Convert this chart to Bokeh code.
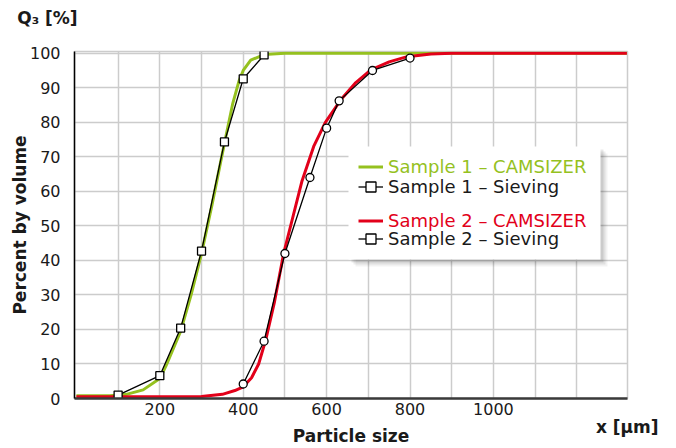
from bokeh.plotting import figure
from bokeh.models import (Range1d, FixedTicker, BoxAnnotation, Legend, LegendItem, Title,
                          LinearAxis)
from bokeh.embed import file_html
from bokeh.resources import INLINE

# ---------------- data ----------------
s1_cam_x = [0, 80, 120, 160, 200, 215, 250, 275, 300, 325, 350, 362, 375, 390, 400, 418, 450, 500, 700, 1000, 1320]
s1_cam_y = [0.8, 0.8, 1.2, 2.5, 5.8, 9.5, 19.5, 30, 42, 56, 71, 78, 85.5, 92, 95, 98, 99.6, 100, 100, 100, 100]

s2_cam_x = [0, 100, 200, 300, 350, 380, 400, 420, 437, 454, 475, 497, 520, 541, 569, 597, 634, 670, 706, 750, 793, 850, 900, 1000, 1320]
s2_cam_y = [0.5, 0.5, 0.5, 0.6, 1.2, 2.3, 3.4, 6, 10, 17, 28, 42, 53, 63, 73, 80, 86.5, 91.5, 95.2, 97.5, 99, 99.8, 100, 100, 100]

s1_sieve_x = [100, 200, 250, 300, 355, 400, 450]
s1_sieve_y = [1.0, 6.6, 20.4, 42.7, 74.3, 92.6, 99.5]

s2_sieve_x = [400, 450, 500, 560, 600, 630, 710, 800]
s2_sieve_y = [4.2, 16.6, 42.0, 64.0, 78.3, 86.2, 95.0, 98.6]

x_tick_values = [200, 400, 600, 800, 1000]
x_grid_values = [100, 200, 300, 400, 500, 600, 700, 800, 900, 1000, 1100, 1200]
y_tick_values = [0, 10, 20, 30, 40, 50, 60, 70, 80, 90, 100]

labels = ["Sample 1 \u2013 CAMSIZER", "Sample 1 \u2013 Sieving",
          "Sample 2 \u2013 CAMSIZER", "Sample 2 \u2013 Sieving"]
y_title = "Percent by volume"
x_title = "Particle size"
x_unit = "x [\u00b5m]"
y_unit = "Q\u2083 [%]"

GREEN = "#95c11f"
RED = "#e2001a"
TXT = "#1a1a1a"
FONT = "DejaVu Sans"

X_START, X_END = -4.6, 1321.5
UNIT_TICK = 1321   # where the unit text of the x axis sits (right end of the axis)

# ---------------- figure ----------------
p = figure(width=676, height=448, output_backend="svg", toolbar_location=None,
           x_range=Range1d(X_START, X_END), y_range=Range1d(0, 100.5),
           min_border_left=74, min_border_right=49, min_border_top=51, min_border_bottom=49)
p.background_fill_color = "white"
p.border_fill_color = "white"
p.outline_line_color = "#cccccc"
p.outline_line_width = 1.5

p.title = Title(text=y_unit + "\n\u00a0", align="left", offset=-57.3, standoff=7,
                vertical_align="bottom",
                text_font=FONT, text_font_size="17px", text_font_style="bold",
                text_color=TXT)

p.xaxis.ticker = FixedTicker(ticks=x_tick_values)
p.yaxis.ticker = FixedTicker(ticks=y_tick_values)
p.xgrid.ticker = FixedTicker(ticks=x_grid_values)
p.ygrid.ticker = FixedTicker(ticks=y_tick_values)
for g in (p.xgrid, p.ygrid):
    g.grid_line_color = "#cccccc"
    g.grid_line_width = 1.5

for ax in (p.xaxis, p.yaxis):
    ax.major_tick_line_color = None
    ax.minor_tick_line_color = None
    ax.major_label_text_font = FONT
    ax.major_label_text_font_size = "16px"
    ax.major_label_text_color = TXT
    ax.axis_label_text_font = FONT
    ax.axis_label_text_font_size = "17px"
    ax.axis_label_text_font_style = "bold"
    ax.axis_label_text_color = TXT
p.yaxis.axis_label = y_title
p.yaxis.axis_line_color = "black"
p.yaxis.axis_line_width = 1.5
p.yaxis.major_label_standoff = 8
p.yaxis.axis_label_standoff = -3
p.xaxis.axis_line_color = "#3a3a3a"
p.xaxis.axis_line_width = 2.5
p.xaxis.major_label_standoff = -2

# second, unlined x axis below the first: unit text at the right end + axis title
ux = LinearAxis(ticker=FixedTicker(ticks=[UNIT_TICK]),
                major_label_overrides={UNIT_TICK: x_unit},
                axis_label=x_title, axis_line_color=None,
                major_tick_line_color=None, minor_tick_line_color=None,
                major_label_standoff=-7, axis_label_standoff=-14,
                major_label_text_font=FONT, major_label_text_font_size="17px",
                major_label_text_font_style="bold", major_label_text_color=TXT,
                axis_label_text_font=FONT, axis_label_text_font_size="17px",
                axis_label_text_font_style="bold", axis_label_text_color=TXT)
p.add_layout(ux, "below")

# ---------------- glyphs ----------------
g1 = p.line(s1_cam_x, s1_cam_y, line_color=GREEN, line_width=3)
g2 = p.line(s2_cam_x, s2_cam_y, line_color=RED, line_width=3)

s1l = p.line(s1_sieve_x, s1_sieve_y, line_color="black", line_width=1.3)
s1m = p.scatter(s1_sieve_x, s1_sieve_y, marker="square", size=8, fill_color="white",
                line_color="black", line_width=1.3)
s2l = p.line(s2_sieve_x, s2_sieve_y, line_color="black", line_width=1.3)
s2m = p.scatter(s2_sieve_x, s2_sieve_y, marker="circle", size=8, fill_color="white",
                line_color="black", line_width=1.3)
# legend-only square marker for sample 2 (zero size in the plot)
s2sq = p.scatter(s2_sieve_x, s2_sieve_y, marker="square", size=0, fill_color="white",
                 line_color="black", line_width=1.3)

# ---------------- legend box with shadow ----------------
bl, br, bt, bb = 274, 526, 252, 139
for off, a in ((7, 0.05), (5, 0.07), (3, 0.09)):
    p.add_layout(BoxAnnotation(left=bl + off, right=br + off, top=bt - off, bottom=bb - off,
                               left_units="screen", right_units="screen",
                               top_units="screen", bottom_units="screen",
                               fill_color="black", fill_alpha=a, line_alpha=0))
p.add_layout(BoxAnnotation(left=bl, right=br, top=bt, bottom=bb,
                           left_units="screen", right_units="screen",
                           top_units="screen", bottom_units="screen",
                           fill_color="white", fill_alpha=1, line_alpha=0))

rows = [(labels[0], [g1], GREEN, 219.2),
        (labels[1], [s1l, s1m], TXT, 199.5),
        (labels[2], [g2], RED, 165.5),
        (labels[3], [s2l, s2sq], TXT, 147.5)]
for text, rends, col, ly in rows:
    lg = Legend(items=[LegendItem(label=text, renderers=rends)], location=(284, ly),
                glyph_width=25, glyph_height=25, label_height=25, label_standoff=5,
                padding=0, margin=0, spacing=0, border_line_alpha=0,
                background_fill_alpha=0, label_text_font=FONT,
                label_text_font_size="18px", label_text_color=col)
    p.add_layout(lg)

open("out.html", "w").write(file_html(p, INLINE))
